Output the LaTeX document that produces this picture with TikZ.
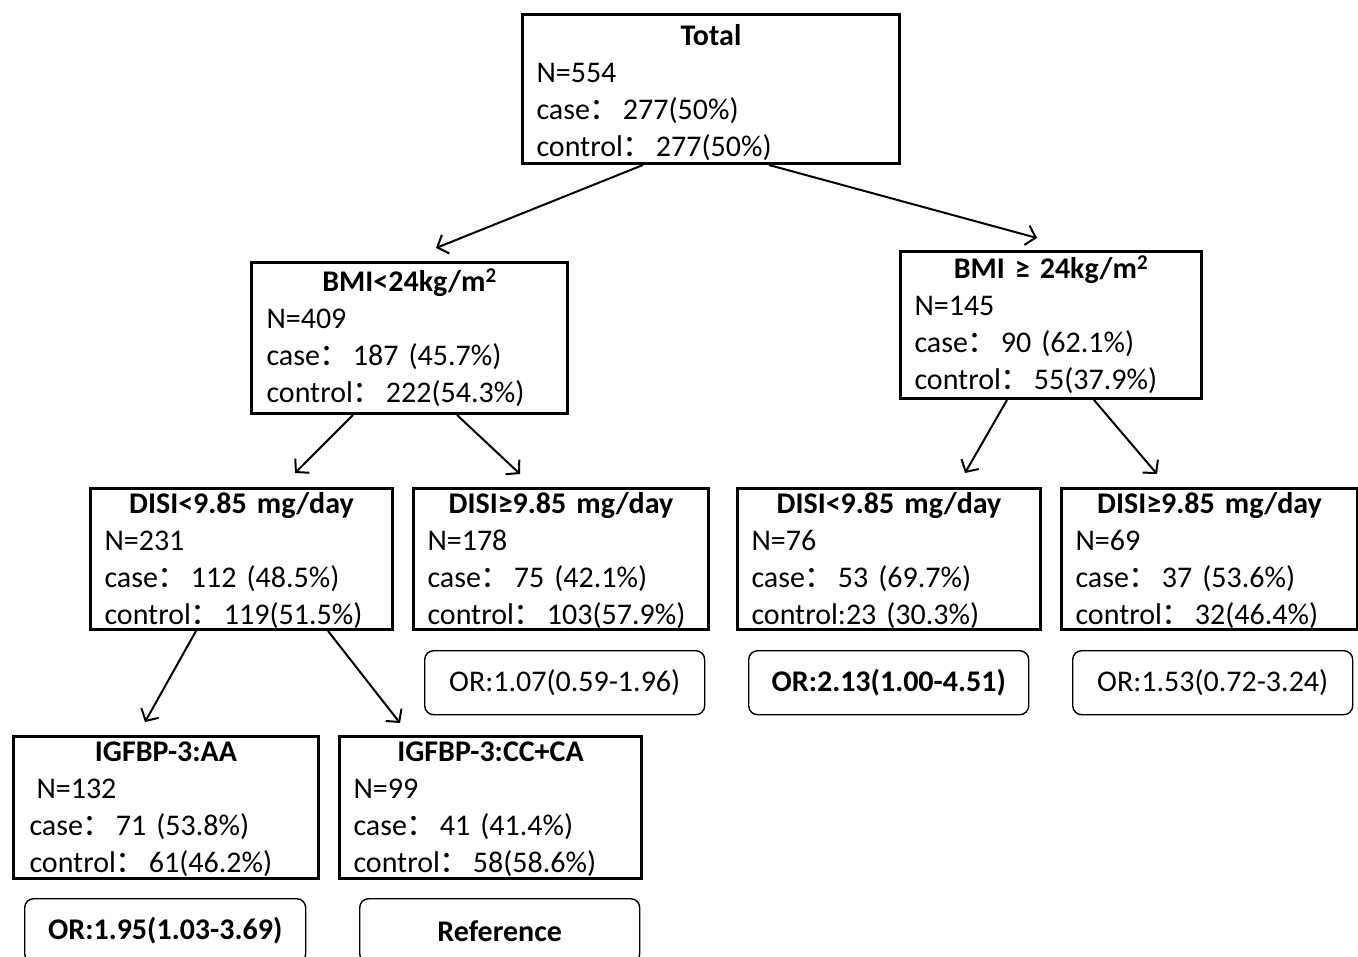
\documentclass[tikz,border=0pt]{standalone}
\usepackage{fontspec}
\setmainfont{Carlito}
\newfontfamily\cjk{Noto Sans CJK SC}
\usetikzlibrary{arrows.meta, positioning}

\newcommand{\fc}{{\cjk ：}\hspace{3pt}}
\newcommand{\ttl}[1]{\hfill\textbf{#1}\hfill\null\\}

\begin{document}
\begin{tikzpicture}[
  x=1pt, y=-1pt,
  every node/.style={font=\fontsize{30}{37}\selectfont},
  box/.style={rectangle, draw, line width=3pt, anchor=north west, align=left, inner xsep=14pt, inner ysep=0pt},
  orbox/.style={rectangle, rounded corners=9pt, draw, line width=1.4pt, anchor=north west, align=center, minimum width=280pt, minimum height=64pt, inner sep=0pt},
  arr/.style={-{Straight Barb[length=9pt,width=20pt]}, line width=2pt}
]
\useasboundingbox (0,0) rectangle (1358,957);

% tree boxes
\node[box, text width=349pt, text height=31pt, text depth=118pt] (total) at (521,13)
  {\ttl{Total}N=554\\case\fc 277(50\%)\\control\fc 277(50\%)};
\node[box, text width=286pt, text height=29pt, text depth=122pt, inner xsep=15pt] (bmilo) at (250,261)
  {\ttl{BMI<24kg/m\textsuperscript{2}}N=409\\case\fc 187 (45.7\%)\\control\fc 222(54.3\%)};
\node[box, text width=273pt, text height=27pt, text depth=120pt] (bmihi) at (899,250)
  {\ttl{BMI ≥ 24kg/m\textsuperscript{2}}N=145\\case\fc 90 (62.1\%)\\control\fc 55(37.9\%)};

\node[box, text width=274pt, text height=25pt, text depth=116pt] (disia) at (89,487)
  {\ttl{DISI<9.85 mg/day}N=231\\case\fc 112 (48.5\%)\\control\fc 119(51.5\%)};
\node[box, text width=267pt, text height=25pt, text depth=116pt] (disib) at (412,487)
  {\ttl{DISI≥9.85 mg/day}N=178\\case\fc 75 (42.1\%)\\control\fc 103(57.9\%)};
\node[box, text width=275pt, text height=25pt, text depth=116pt] (disic) at (736,487)
  {\ttl{DISI<9.85 mg/day}N=76\\case\fc 53 (69.7\%)\\control:23 (30.3\%)};
\node[box, text width=268pt, text height=25pt, text depth=116pt] (disid) at (1060,487)
  {\ttl{DISI≥9.85 mg/day}N=69\\case\fc 37 (53.6\%)\\control\fc 32(46.4\%)};

\node[box, text width=273pt, text height=25pt, text depth=117pt, inner xsep=16pt] (igfaa) at (12,735)
  {\ttl{IGFBP-3:AA}\hspace*{7pt}N=132\\case\fc 71 (53.8\%)\\control\fc 61(46.2\%)};
\node[box, text width=274pt, text height=25pt, text depth=117pt] (igfcc) at (338,735)
  {\ttl{IGFBP-3:CC+CA}N=99\\case\fc 41 (41.4\%)\\control\fc 58(58.6\%)};

% odds ratios
\node[orbox] (orb) at (424,650) {OR:1.07(0.59-1.96)};
\node[orbox] (orc) at (748,650) {\textbf{OR:2.13(1.00-4.51)}};
\node[orbox] (ord) at (1072,650) {OR:1.53(0.72-3.24)};
\node[orbox, minimum width=281pt] (oraa) at (24,898) {\textbf{OR:1.95(1.03-3.69)}};
\node[orbox] (orcc) at (359,898) {\textbf{Reference}};

% arrows
\draw[arr] ([xshift=122pt]total.south west) -- ([xshift=186pt,yshift=13pt]bmilo.north west);
\draw[arr] ([xshift=248pt]total.south west) -- ([xshift=138pt,yshift=12pt]bmihi.north west);
\draw[arr] ([xshift=103pt]bmilo.south west) -- ([xshift=206pt,yshift=14pt]disia.north west);
\draw[arr] ([xshift=207pt]bmilo.south west) -- ([xshift=108pt,yshift=13pt]disib.north west);
\draw[arr] ([xshift=108pt]bmihi.south west) -- ([xshift=229pt,yshift=14pt]disic.north west);
\draw[arr] ([xshift=195pt]bmihi.south west) -- ([xshift=97pt,yshift=13pt]disid.north west);
\draw[arr] ([xshift=107pt]disia.south west) -- ([xshift=133pt,yshift=13pt]igfaa.north west);
\draw[arr] ([xshift=239pt]disia.south west) -- ([xshift=62pt,yshift=12pt]igfcc.north west);
\end{tikzpicture}
\end{document}
